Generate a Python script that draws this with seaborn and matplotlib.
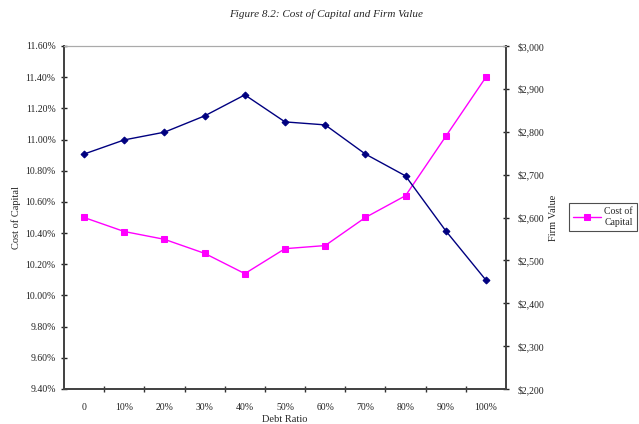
import matplotlib
matplotlib.use("Agg")
import matplotlib.pyplot as plt
import seaborn as sns
import pandas as pd
from matplotlib.ticker import FuncFormatter, MultipleLocator

debt_ratio = ["0", "10%", "20%", "30%", "40%", "50%", "60%", "70%", "80%", "90%", "100%"]
cost_of_capital = [10.50, 10.41, 10.36, 10.27, 10.14, 10.30, 10.32, 10.50, 10.64, 11.02, 11.40]
firm_value = [2748, 2781, 2799, 2837, 2886, 2823, 2816, 2748, 2697, 2569, 2454]

df = pd.DataFrame({"debt": debt_ratio, "coc": cost_of_capital, "fv": firm_value})

sns.set_theme(style="white")
plt.rcParams["font.family"] = ["Liberation Serif", "DejaVu Serif"]

fig = plt.figure(figsize=(6.39, 4.24), dpi=100)
ax = fig.add_axes([64/639, 35/424, 442/639, 343/424])
ax2 = ax.twinx()

sns.lineplot(data=df, x="debt", y="coc", ax=ax, color="#FF00FF", marker="s",
             markersize=5, markeredgecolor="#FF00FF", linewidth=1, label="Cost of\nCapital",
             legend=False, sort=False)
sns.lineplot(data=df, x="debt", y="fv", ax=ax2, color="#000080", marker="D",
             markersize=3.5, markeredgecolor="#000080", linewidth=1, legend=False, sort=False)

ax.set_xlim(-0.5, len(debt_ratio) - 0.5)
ax.set_ylim(9.4, 11.6)
ax2.set_ylim(2200, 3000)
ax.yaxis.set_major_locator(MultipleLocator(0.2))
ax.yaxis.set_major_formatter(FuncFormatter(lambda v, p: f"{v:.2f}%"))
ax2.yaxis.set_major_locator(MultipleLocator(100))
ax2.yaxis.set_major_formatter(FuncFormatter(lambda v, p: f"${v:,.0f}"))

ax.set_xticks(range(len(debt_ratio)))
ax.set_xticklabels(debt_ratio)
ax.set_xticks([i + 0.5 for i in range(len(debt_ratio) - 1)], minor=True)
ax.tick_params(axis="x", which="major", length=0, labelsize=7, pad=10, colors="#222222")
ax.tick_params(axis="x", which="minor", length=4, direction="inout", width=1, color="#333333", bottom=True)
ax.tick_params(axis="y", length=5, direction="inout", width=1, labelsize=7, colors="#222222", left=True)
ax2.tick_params(axis="y", length=5, direction="inout", width=1, labelsize=7, colors="#222222", right=True, pad=6)

for a in (ax, ax2):
    for s in ("left", "right", "bottom"):
        a.spines[s].set_color("#444444")
        a.spines[s].set_linewidth(1.3)
    a.spines["top"].set_color("#aaaaaa")
    a.spines["top"].set_linewidth(0.8)
    a.grid(False)

ax.set_xlabel("Debt Ratio", fontsize=7.5, labelpad=2)
ax.set_ylabel("Cost of Capital", fontsize=7.5, labelpad=3)
ax2.set_ylabel("Firm Value", fontsize=7.5, labelpad=3)

fig.text(326/639, 1 - 14/424, "Figure 8.2: Cost of Capital and Firm Value",
         ha="center", va="center", fontsize=8, style="italic")

handles, labels = ax.get_legend_handles_labels()
leg = fig.legend(handles, labels, loc="upper left", bbox_to_anchor=(569/639, 1 - 203/424),
                 fontsize=7, frameon=True, fancybox=False, edgecolor="#222222",
                 handlelength=2.8, handletextpad=0.4, borderpad=0.45, borderaxespad=0,
                 labelspacing=0.2)
leg.get_frame().set_linewidth(0.8)
for t in leg.get_texts():
    t.set_multialignment("center")

fig.savefig("out.png", dpi=100, facecolor="white")
